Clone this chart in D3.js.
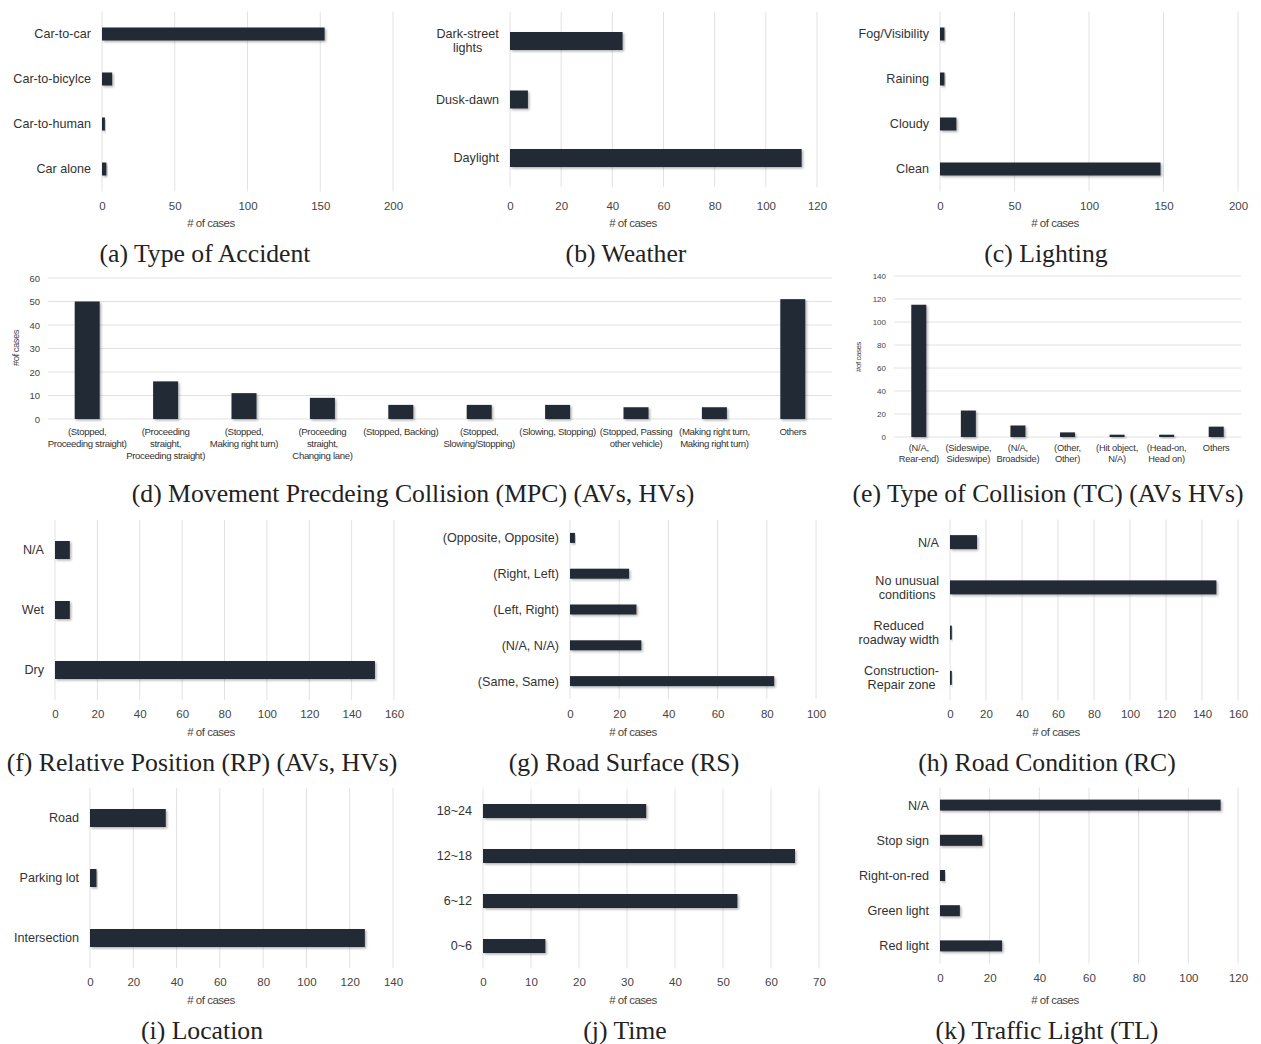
<!DOCTYPE html>
<html>
<head>
<meta charset="utf-8">
<script src="https://cdn.jsdelivr.net/npm/d3@7"></script>
<style>
  body { margin: 0; background: #fff; }
  svg { display: block; }
  .cat { font-family: "Liberation Sans", Arial, sans-serif; fill: #333; }
  .tick text { font-family: "Liberation Sans", Arial, sans-serif; fill: #444; }
  .axlabel { font-family: "Liberation Sans", Arial, sans-serif; fill: #444; letter-spacing: -0.5px; }
  .title { font-family: "Liberation Serif", "Times New Roman", serif; font-size: 25.7px; fill: #222; }
</style>
</head>
<body>
<div id="chart"></div>
<script>
// data
const typeCats = ['Car-to-car', 'Car-to-bicylce', 'Car-to-human', 'Car alone'];
const typeVals = [153, 7, 2, 3];
const typeTicks = [0, 50, 100, 150, 200];

const weatherCats = ['Dark-street\nlights', 'Dusk-dawn', 'Daylight'];
const weatherVals = [44, 7, 114];
const weatherTicks = [0, 20, 40, 60, 80, 100, 120];

const lightCats = ['Fog/Visibility', 'Raining', 'Cloudy', 'Clean'];
const lightVals = [3, 3, 11, 148];
const lightTicks = [0, 50, 100, 150, 200];

const mpcCats = ['(Stopped,\nProceeding straight)', '(Proceeding\nstraight,\nProceeding straight)',
  '(Stopped,\nMaking right turn)', '(Proceeding\nstraight,\nChanging lane)', '(Stopped, Backing)',
  '(Stopped,\nSlowing/Stopping)', '(Slowing, Stopping)', '(Stopped, Passing\nother vehicle)',
  '(Making right turn,\nMaking right turn)', 'Others'];
const mpcVals = [50, 16, 11, 9, 6, 6, 6, 5, 5, 51];
const mpcTicks = [0, 10, 20, 30, 40, 50, 60];

const tcCats = ['(N/A,\nRear-end)', '(Sideswipe,\nSideswipe)', '(N/A,\nBroadside)', '(Other,\nOther)',
  '(Hit object,\nN/A)', '(Head-on,\nHead on)', 'Others'];
const tcVals = [115, 23, 10, 4, 2, 2, 9];
const tcTicks = [0, 20, 40, 60, 80, 100, 120, 140];

const rpCats = ['N/A', 'Wet', 'Dry'];
const rpVals = [7, 7, 151];
const rpTicks = [0, 20, 40, 60, 80, 100, 120, 140, 160];

const rsCats = ['(Opposite, Opposite)', '(Right, Left)', '(Left, Right)', '(N/A, N/A)', '(Same, Same)'];
const rsVals = [2, 24, 27, 29, 83];
const rsTicks = [0, 20, 40, 60, 80, 100];

const rcCats = ['N/A', 'No unusual\nconditions', 'Reduced\nroadway width', 'Construction-\nRepair zone'];
const rcVals = [15, 148, 1, 1];
const rcTicks = [0, 20, 40, 60, 80, 100, 120, 140, 160];

const locCats = ['Road', 'Parking lot', 'Intersection'];
const locVals = [35, 3, 127];
const locTicks = [0, 20, 40, 60, 80, 100, 120, 140];

const timeCats = ['18~24', '12~18', '6~12', '0~6'];
const timeVals = [34, 65, 53, 13];
const timeTicks = [0, 10, 20, 30, 40, 50, 60, 70];

const tlCats = ['N/A', 'Stop sign', 'Right-on-red', 'Green light', 'Red light'];
const tlVals = [113, 17, 2, 8, 25];
const tlTicks = [0, 20, 40, 60, 80, 100, 120];

const BAR = '#232935';
const GRID = '#e2e2e2';

const svg = d3.select('#chart').append('svg')
  .attr('width', 1261)
  .attr('height', 1044);

const defs = svg.append('defs');
const shadow = defs.append('filter').attr('id', 'shadow')
  .attr('x', '-10%').attr('y', '-30%').attr('width', '130%').attr('height', '180%');
shadow.append('feDropShadow')
  .attr('dx', 1.5).attr('dy', 1.5).attr('stdDeviation', 1.3)
  .attr('flood-color', '#000').attr('flood-opacity', 0.3);

// horizontal bar panel
function hbar(cats, vals, ticks, g) {
  const x = d3.scaleLinear().domain([0, ticks[ticks.length - 1]]).range([g.x0, g.x1]);
  const y = d3.scaleBand().domain(cats).range([g.y0, g.y1]).paddingInner(0).paddingOuter(0);
  const p = svg.append('g');

  p.selectAll('.grid').data(ticks).join('line')
    .attr('x1', d => x(d)).attr('x2', d => x(d))
    .attr('y1', g.y0).attr('y2', g.y1)
    .attr('stroke', GRID).attr('stroke-width', 1);

  p.selectAll('.bar').data(cats).join('rect')
    .attr('x', x(0))
    .attr('y', d => y(d) + y.bandwidth() / 2 - g.bar / 2)
    .attr('width', (d, i) => x(vals[i]) - x(0))
    .attr('height', g.bar)
    .attr('fill', BAR)
    .attr('filter', 'url(#shadow)');

  // category labels, multi-line ones centred on their widest line
  cats.forEach(c => {
    const lines = c.split('\n');
    const t = p.append('text').attr('class', 'cat')
      .attr('font-size', 12.6)
      .attr('text-anchor', lines.length > 1 ? 'middle' : 'end');
    const cy = y(c) + y.bandwidth() / 2;
    lines.forEach((l, k) => {
      t.append('tspan').attr('x', 0)
        .attr('y', cy + (k - (lines.length - 1) / 2) * 14)
        .attr('dy', '0.35em').text(l);
    });
    const w = t.node().getBBox().width;
    const right = x(0) - 11;
    t.attr('transform', `translate(${lines.length > 1 ? right - w / 2 : right},0)`);
  });

  const axis = d3.axisBottom(x).tickValues(ticks).tickSize(0).tickPadding(0);
  const ag = p.append('g').attr('transform', `translate(0,${g.tickY - 4})`).call(axis);
  ag.select('.domain').remove();
  ag.selectAll('text').attr('font-size', 11.5);

  p.append('text').attr('class', 'axlabel')
    .attr('x', g.labelX).attr('y', g.labelY)
    .attr('text-anchor', 'middle').attr('dominant-baseline', 'central')
    .attr('font-size', 11.5).text('# of cases');

  p.append('text').attr('class', 'title')
    .attr('x', g.titleX).attr('y', g.titleY)
    .attr('text-anchor', 'middle').attr('dominant-baseline', 'central')
    .text(g.title);
}

// vertical bar panel
function vbar(cats, vals, ticks, g) {
  const x = d3.scaleBand().domain(cats).range([g.x0, g.x1]);
  const y = d3.scaleLinear().domain([0, ticks[ticks.length - 1]]).range([g.yBottom, g.yTop]);
  const p = svg.append('g');

  p.selectAll('.grid').data(ticks).join('line')
    .attr('x1', g.x0).attr('x2', g.x1)
    .attr('y1', d => y(d)).attr('y2', d => y(d))
    .attr('stroke', GRID).attr('stroke-width', 1);

  p.selectAll('.bar').data(cats).join('rect')
    .attr('x', d => x(d) + x.bandwidth() / 2 - g.barW / 2)
    .attr('y', (d, i) => y(vals[i]))
    .attr('width', g.barW)
    .attr('height', (d, i) => y(0) - y(vals[i]))
    .attr('fill', BAR)
    .attr('filter', 'url(#shadow)');

  cats.forEach(c => {
    const t = p.append('text').attr('class', 'cat')
      .attr('font-size', g.catSize).attr('letter-spacing', g.catSpacing)
      .attr('text-anchor', 'middle');
    c.split('\n').forEach((l, k) => {
      t.append('tspan').attr('x', x(c) + x.bandwidth() / 2)
        .attr('y', g.catY + k * g.lineH)
        .attr('dy', '0.35em').text(l);
    });
  });

  const axis = d3.axisLeft(y).tickValues(ticks).tickSize(0).tickPadding(0);
  const ag = p.append('g').attr('transform', `translate(${g.tickX},0)`).call(axis);
  ag.select('.domain').remove();
  ag.selectAll('text').attr('font-size', g.tickSize);

  p.append('text').attr('class', 'axlabel')
    .attr('transform', `translate(${g.labelX},${g.labelY}) rotate(-90)`)
    .attr('text-anchor', 'middle').attr('dominant-baseline', 'central')
    .attr('font-size', g.labelSize).text('#of cases');

  p.append('text').attr('class', 'title')
    .attr('x', g.titleX).attr('y', g.titleY)
    .attr('text-anchor', 'middle').attr('dominant-baseline', 'central')
    .text(g.title);
}

hbar(typeCats, typeVals, typeTicks, {
  x0: 102, x1: 393, y0: 11.5, y1: 191.5, bar: 13, tickY: 206,
  labelX: 211, labelY: 223, titleX: 205, titleY: 253, title: '(a) Type of Accident'
});
hbar(weatherCats, weatherVals, weatherTicks, {
  x0: 510, x1: 817, y0: 11.75, y1: 187.25, bar: 18, tickY: 206,
  labelX: 633, labelY: 223, titleX: 626, titleY: 253, title: '(b) Weather'
});
hbar(lightCats, lightVals, lightTicks, {
  x0: 940, x1: 1238, y0: 11.5, y1: 191.5, bar: 13, tickY: 206,
  labelX: 1055, labelY: 223, titleX: 1046, titleY: 253, title: '(c) Lighting'
});

vbar(mpcCats, mpcVals, mpcTicks, {
  x0: 48, x1: 832, yTop: 278, yBottom: 419, barW: 25, tickX: 40, tickSize: 9.5,
  catY: 432, lineH: 12, catSize: 9.6, catSpacing: -0.35,
  labelX: 15, labelY: 348, labelSize: 9.5,
  titleX: 413, titleY: 493, title: '(d) Movement Precdeing Collision (MPC) (AVs, HVs)'
});
vbar(tcCats, tcVals, tcTicks, {
  x0: 894, x1: 1241, yTop: 276, yBottom: 437, barW: 15, tickX: 886, tickSize: 8,
  catY: 448, lineH: 11, catSize: 9.3, catSpacing: -0.2,
  labelX: 858, labelY: 357, labelSize: 8,
  titleX: 1048, titleY: 493, title: '(e) Type of Collision (TC) (AVs HVs)'
});

hbar(rpCats, rpVals, rpTicks, {
  x0: 55, x1: 394, y0: 520, y1: 700, bar: 18, tickY: 714,
  labelX: 211, labelY: 732, titleX: 202, titleY: 762, title: '(f) Relative Position (RP) (AVs, HVs)'
});
hbar(rsCats, rsVals, rsTicks, {
  x0: 570, x1: 816, y0: 520, y1: 699, bar: 10, tickY: 714,
  labelX: 633, labelY: 732, titleX: 624, titleY: 762, title: '(g) Road Surface (RS)'
});
hbar(rcCats, rcVals, rcTicks, {
  x0: 950, x1: 1238, y0: 519.5, y1: 700.5, bar: 14, tickY: 714,
  labelX: 1056, labelY: 732, titleX: 1047, titleY: 762, title: '(h) Road Condition (RC)'
});

hbar(locCats, locVals, locTicks, {
  x0: 90, x1: 393, y0: 788, y1: 968, bar: 18, tickY: 982,
  labelX: 211, labelY: 1000, titleX: 202, titleY: 1030, title: '(i) Location'
});
hbar(timeCats, timeVals, timeTicks, {
  x0: 483, x1: 819, y0: 788.5, y1: 968.5, bar: 14, tickY: 982,
  labelX: 633, labelY: 1000, titleX: 625, titleY: 1030, title: '(j) Time'
});
hbar(tlCats, tlVals, tlTicks, {
  x0: 940, x1: 1238, y0: 787.5, y1: 963.5, bar: 11, tickY: 978,
  labelX: 1055, labelY: 1000, titleX: 1047, titleY: 1030, title: '(k) Traffic Light (TL)'
});
</script>
</body>
</html>
